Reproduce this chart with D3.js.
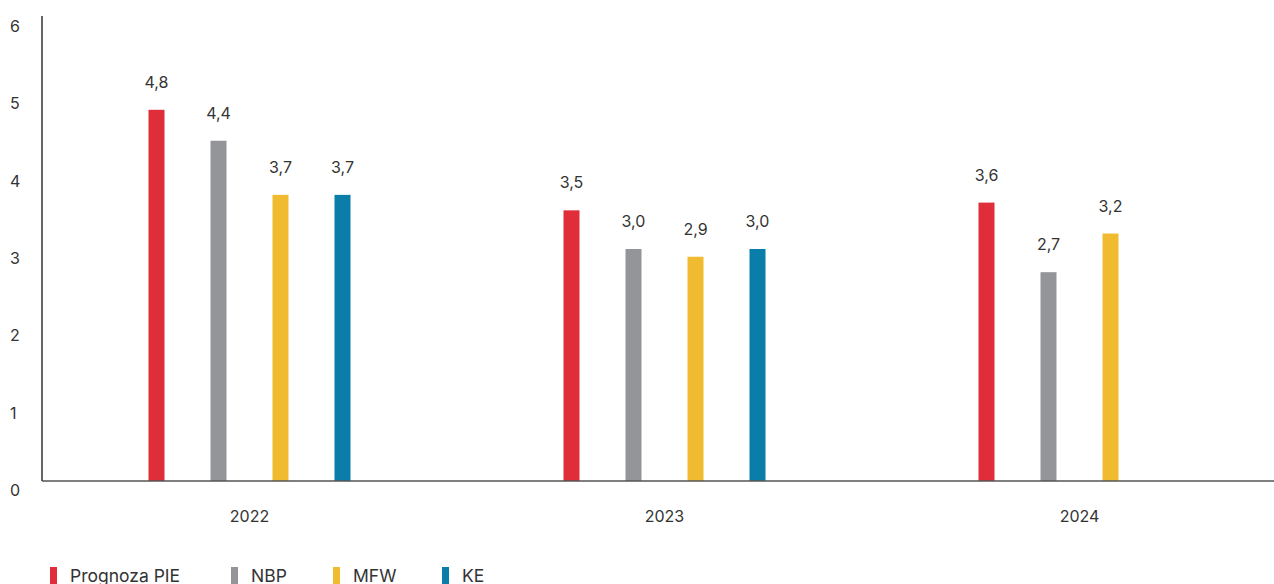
<!DOCTYPE html>
<html>
<head>
<meta charset="utf-8">
<script src="https://cdn.jsdelivr.net/npm/d3@7"></script>
<style>
body { margin: 0; background: #fff; }
text { font-family: Inter, "Noto Sans", sans-serif; fill: #333; }
</style>
</head>
<body>
<script>
var years = ["2022", "2023", "2024"];
var series = ["Prognoza PIE", "NBP", "MFW", "KE"];
var colors = ["#e02d3a", "#939598", "#f0bb2f", "#0a7ea9"];
var pie = [4.8, 3.5, 3.6];
var nbp = [4.4, 3.0, 2.7];
var mfw = [3.7, 2.9, 3.2];
var ke  = [3.7, 3.0, null];
var yTicks = [0, 1, 2, 3, 4, 5, 6];

var W = 1274, H = 584;
var mLeft = 42, mBottom = 481, mTop = 17;

var svg = d3.select("body").append("svg")
    .attr("width", W).attr("height", H);

var x0 = d3.scaleBand().domain(years).range([mLeft, mLeft + 1245]);
var x1 = d3.scaleBand().domain(series).range([-124, 124]);
var y = d3.scaleLinear().domain([0, 6]).range([mBottom, mTop]);

var values = [pie, nbp, mfw, ke];
var data = [];
years.forEach(function(yr, i) {
    series.forEach(function(s, j) {
        if (values[j][i] != null) data.push({year: yr, s: s, c: colors[j], v: values[j][i]});
    });
});

function fmt(v) { return v.toFixed(1).replace(".", ","); }
function cx(d) { return x0(d.year) + x0.bandwidth() / 2 + x1(d.s) + x1.bandwidth() / 2; }

var bw = 16;
svg.selectAll("rect.bar").data(data).enter().append("rect")
    .attr("class", "bar")
    .attr("x", function(d) { return cx(d) - bw / 2; })
    .attr("y", function(d) { return y(d.v); })
    .attr("width", bw)
    .attr("height", function(d) { return mBottom - y(d.v); })
    .attr("fill", function(d) { return d.c; });

svg.selectAll("text.val").data(data).enter().append("text")
    .attr("class", "val")
    .attr("x", cx)
    .attr("y", function(d) { return y(d.v) - 22; })
    .attr("text-anchor", "middle")
    .style("font-size", "16px")
    .text(function(d) { return fmt(d.v); });

// axes
svg.append("line").attr("x1", mLeft).attr("x2", W).attr("y1", mBottom).attr("y2", mBottom)
    .attr("stroke", "#555").attr("stroke-width", 1.5);
svg.append("line").attr("x1", mLeft).attr("x2", mLeft).attr("y1", mTop - 1).attr("y2", mBottom)
    .attr("stroke", "#333").attr("stroke-width", 1.5);

svg.selectAll("text.yt").data(yTicks).enter().append("text")
    .attr("class", "yt")
    .attr("x", 10)
    .attr("y", function(d) { return y(d) + 15; })
    .style("font-size", "16px")
    .text(function(d) { return d; });

svg.selectAll("text.xt").data(years).enter().append("text")
    .attr("class", "xt")
    .attr("x", function(d) { return x0(d) + x0.bandwidth() / 2; })
    .attr("y", 522)
    .attr("text-anchor", "middle")
    .style("font-size", "16px")
    .text(function(d) { return d; });

// legend
var legX = [50, 231, 333, 442];
var leg = svg.selectAll("g.leg").data(series).enter().append("g")
    .attr("class", "leg")
    .attr("transform", function(d, i) { return "translate(" + legX[i] + ",567)"; });
leg.append("rect").attr("width", 7).attr("height", 17)
    .attr("fill", function(d, i) { return colors[i]; });
leg.append("text").attr("x", 20).attr("y", 15)
    .style("font-size", "17.5px")
    .text(function(d) { return d; });
</script>
</body>
</html>
